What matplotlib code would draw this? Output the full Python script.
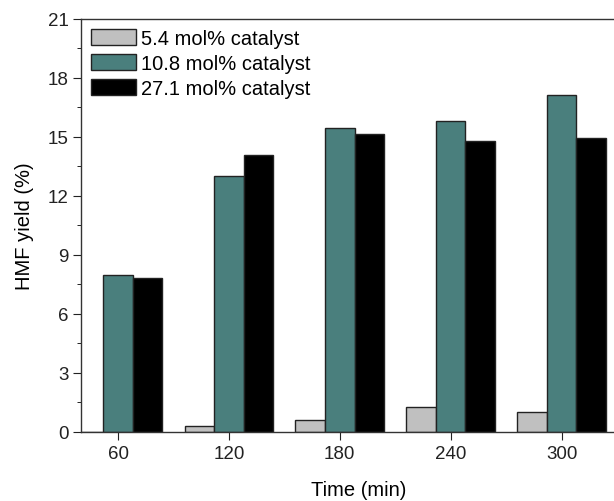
import numpy as np
import matplotlib.pyplot as plt
from matplotlib.ticker import MultipleLocator

plt.rcParams['font.family'] = ['Liberation Sans', 'DejaVu Sans']

# Dados do gráfico
tempos = [60, 120, 180, 240, 300]
cat_5_4 = [0.0, 0.29, 0.61, 1.26, 1.03]
cat_10_8 = [7.96, 13.0, 15.42, 15.82, 17.1]
cat_27_1 = [7.84, 14.05, 15.13, 14.76, 14.95]
rotulos = ['5.4 mol% catalyst', '10.8 mol% catalyst', '27.1 mol% catalyst']
cores = ['#c0c0c0', '#4a7f7d', '#000000']

fig = plt.figure(figsize=(6.14, 5.02), dpi=100)
ax = fig.add_axes([0.132, 0.1375, 0.903, 0.8235])

x = np.array(tempos, dtype=float)
largura = 16
series = [cat_5_4, cat_10_8, cat_27_1]
for i, (vals, cor, rot) in enumerate(zip(series, cores, rotulos)):
    ax.bar(x + (i - 1) * largura, vals, width=largura, color=cor,
           edgecolor='#222222', linewidth=1.0, label=rot)

ax.set_xlim(40, 340)
ax.set_ylim(0, 21)
ax.set_xticks(tempos)
ax.yaxis.set_major_locator(MultipleLocator(3))
ax.yaxis.set_minor_locator(MultipleLocator(1.5))
ax.tick_params(axis='both', which='major', direction='out', length=5.5,
               labelsize=13.5, colors='#222222', pad=3.6)
ax.tick_params(axis='y', which='minor', direction='out', length=3.2)
ax.tick_params(axis='x', pad=4)
for s in ax.spines.values():
    s.set_linewidth(1.0)
    s.set_color('#333333')

ax.set_xlabel('Time (min)', fontsize=14.5, labelpad=13)
ax.set_ylabel('HMF yield (%)', fontsize=14.5, labelpad=10)

ax.legend(loc='upper left', frameon=False, fontsize=14.5,
          handlelength=2.25, handleheight=0.85, handletextpad=0.25,
          labelspacing=0.3, borderaxespad=0.3, borderpad=0.2)

fig.savefig('out.png', dpi=100)
